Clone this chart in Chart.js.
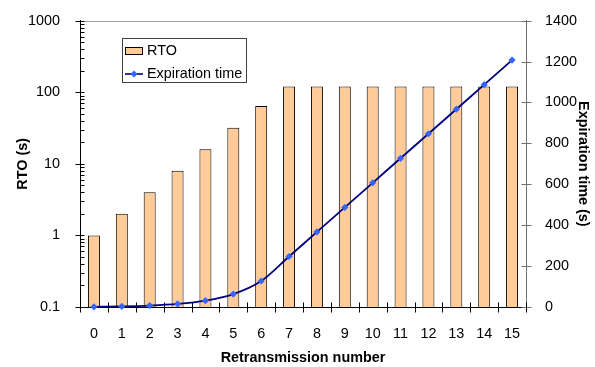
<!DOCTYPE html>
<html>
<head>
<meta charset="utf-8">
<script src="https://cdn.jsdelivr.net/npm/chart.js@4/dist/chart.umd.min.js"></script>
<style>
html,body{margin:0;padding:0;background:#fff;}
#wrap{width:595px;height:367px;position:relative;}
</style>
</head>
<body>
<div id="wrap"><canvas id="c" width="595" height="367"></canvas></div>
<script>
const categories = ['0','1','2','3','4','5','6','7','8','9','10','11','12','13','14','15'];
const rtoValues = [1, 2, 4, 8, 16, 32, 64, 120, 120, 120, 120, 120, 120, 120, 120, 120];
const expirationValues = [1, 3, 7, 15, 31, 63, 127, 247, 367, 487, 607, 727, 847, 967, 1087, 1207];
const leftTicks = [0.1, 1, 10, 100, 1000];
const rightTicks = [0, 200, 400, 600, 800, 1000, 1200, 1400];

const FONT = 'Liberation Sans, Arial, Helvetica, sans-serif';

const decor = {
  id: 'decor',
  beforeDatasetsDraw(chart) {
    const ctx = chart.ctx;
    const a = chart.chartArea;
    const y = chart.scales.y, y1 = chart.scales.y1, x = chart.scales.x;
    ctx.save();
    ctx.strokeStyle = '#a0a0a0';
    ctx.lineWidth = 1;
    ctx.beginPath();
    ctx.moveTo(a.left, Math.round(a.top) + 0.5);
    ctx.lineTo(a.right, Math.round(a.top) + 0.5);
    ctx.stroke();
    ctx.strokeStyle = '#000';
    const L = Math.round(a.left) + 0.5;
    for (let e = -1; e <= 3; e++) {
      const base = Math.pow(10, e);
      const py = Math.round(y.getPixelForValue(base)) + 0.5;
      ctx.beginPath(); ctx.moveTo(L - 5, py); ctx.lineTo(L + 4, py); ctx.stroke();
      if (e < 3) {
        for (let m = 2; m <= 9; m++) {
          const my = Math.round(y.getPixelForValue(base * m)) + 0.5;
          ctx.beginPath(); ctx.moveTo(L, my); ctx.lineTo(L + 4, my); ctx.stroke();
        }
      }
    }
    ctx.strokeStyle = '#707070';
    const R = Math.round(a.right) + 0.5;
    rightTicks.forEach(v => {
      const py = Math.round(y1.getPixelForValue(v)) + 0.5;
      ctx.beginPath(); ctx.moveTo(R - 5, py); ctx.lineTo(R + 5, py); ctx.stroke();
    });
    ctx.strokeStyle = '#000';
    const B = Math.round(a.bottom) + 0.5;
    for (let i = 0; i <= categories.length; i++) {
      let px;
      if (i === 0) px = a.left;
      else if (i === categories.length) px = a.right;
      else px = (x.getPixelForValue(i - 1) + x.getPixelForValue(i)) / 2;
      px = Math.round(px) + 0.5;
      ctx.beginPath(); ctx.moveTo(px, B - 5); ctx.lineTo(px, B + 5); ctx.stroke();
    }
    ctx.restore();
  },
  afterDraw(chart) {
    const ctx = chart.ctx;
    ctx.save();
    ctx.fillStyle = '#fff';
    ctx.fillRect(122, 38, 124, 44);
    ctx.strokeStyle = '#404040';
    ctx.lineWidth = 1;
    ctx.strokeRect(122.5, 38.5, 124, 44);
    ctx.fillStyle = '#FFCC99';
    ctx.fillRect(125, 47, 18, 8);
    ctx.strokeStyle = '#000';
    ctx.strokeRect(125.5, 47.5, 17, 7);
    ctx.strokeStyle = '#000080';
    ctx.lineWidth = 1.6;
    ctx.beginPath(); ctx.moveTo(125, 74); ctx.lineTo(143, 74); ctx.stroke();
    ctx.fillStyle = '#3366FF';
    ctx.beginPath();
    ctx.moveTo(134, 70.5); ctx.lineTo(137.5, 74); ctx.lineTo(134, 77.5); ctx.lineTo(130.5, 74); ctx.closePath();
    ctx.fill();
    ctx.fillStyle = '#000';
    ctx.font = '14.4px ' + FONT;
    ctx.textBaseline = 'middle';
    ctx.textAlign = 'left';
    ctx.fillText(chart.data.datasets[0].label, 147, 51.5);
    ctx.fillText(chart.data.datasets[1].label, 147, 74.5);
    ctx.restore();
  }
};

new Chart(document.getElementById('c'), {
  data: {
    labels: categories,
    datasets: [
      {
        type: 'bar',
        label: 'RTO',
        data: rtoValues,
        yAxisID: 'y',
        backgroundColor: '#FFCC99',
        borderColor: '#000000',
        borderWidth: 1,
        categoryPercentage: 1.0,
        barPercentage: 0.43,
        order: 2
      },
      {
        type: 'line',
        label: 'Expiration time',
        data: expirationValues,
        yAxisID: 'y1',
        borderColor: '#000080',
        borderWidth: 1.8,
        cubicInterpolationMode: 'monotone',
        pointStyle: 'rectRot',
        pointRadius: 3.6,
        pointBackgroundColor: '#3366FF',
        pointBorderColor: '#3366FF',
        pointBorderWidth: 0,
        clip: false,
        order: 1
      }
    ]
  },
  options: {
    responsive: false,
    animation: false,
    events: [],
    layout: { padding: { top: 20, left: 0, right: 0, bottom: 0 } },
    plugins: { legend: { display: false }, tooltip: { enabled: false } },
    scales: {
      x: {
        type: 'category',
        offset: true,
        grid: { display: false },
        border: { display: true, color: '#000', width: 1 },
        ticks: { color: '#000', font: { family: FONT, size: 14.4 }, padding: 10, maxRotation: 0, autoSkip: false },
        title: { display: true, text: 'Retransmission number', color: '#000', font: { family: FONT, size: 14.4, weight: 'bold' }, padding: { top: 0, bottom: 0 } },
        afterFit(s) { s.height = 60; }
      },
      y: {
        type: 'logarithmic',
        position: 'left',
        min: 0.1,
        max: 1000,
        grid: { display: false },
        border: { display: true, color: '#000', width: 1 },
        afterBuildTicks(s) { s.ticks = leftTicks.map(v => ({ value: v })); },
        ticks: {
          color: '#000', font: { family: FONT, size: 14.4 }, padding: 12,
          callback: (v) => String(v)
        },
        title: { display: true, text: 'RTO (s)', color: '#000', font: { family: FONT, size: 14.4, weight: 'bold' }, padding: { top: 14, bottom: 0 } },
        afterFit(s) { s.width = 80; }
      },
      y1: {
        type: 'linear',
        position: 'right',
        min: 0,
        max: 1400,
        grid: { display: false },
        border: { display: true, color: '#707070', width: 1 },
        afterBuildTicks(s) { s.ticks = rightTicks.map(v => ({ value: v })); },
        ticks: { color: '#000', font: { family: FONT, size: 14.4 }, padding: 11, callback: (v) => String(v) },
        title: { display: true, text: 'Expiration time (s)', color: '#000', font: { family: FONT, size: 14.4, weight: 'bold' }, padding: { top: 3, bottom: 0 } },
        afterFit(s) { s.width = 69; }
      }
    }
  },
  plugins: [decor]
});
</script>
</body>
</html>
